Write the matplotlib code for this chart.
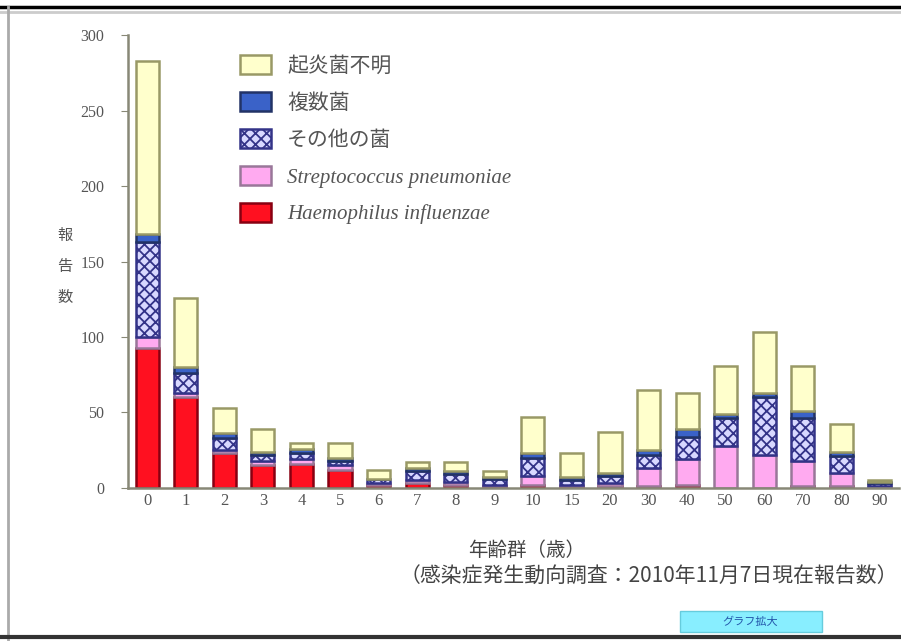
import numpy as np
import matplotlib.pyplot as plt
from matplotlib.lines import Line2D
from matplotlib.patches import Rectangle

plt.rcParams['font.family'] = ['Noto Sans CJK JP', 'DejaVu Sans']
plt.rcParams['hatch.linewidth'] = 1.3

# 年齢群
ages = ['0', '1', '2', '3', '4', '5', '6', '7', '8', '9',
        '10', '15', '20', '30', '40', '50', '60', '70', '80', '90']

# 報告数 (下から積み上げ順)
hib     = [93, 60, 23, 15, 16, 12, 2, 3, 2, 1, 2, 1, 1, 1, 2, 0, 0, 1, 1, 0]
pneumo  = [7, 3, 2, 3, 3, 3, 1, 2, 2, 1, 6, 1, 2, 12, 17, 28, 22, 17, 9, 1]
other   = [63, 13, 8, 4, 4, 3, 3, 6, 5, 4, 12, 3, 5, 9, 15, 18, 38, 28, 11, 2]
mixed   = [5, 4, 3, 2, 3, 2, 0, 2, 2, 1, 3, 2, 2, 3, 5, 3, 3, 5, 3, 1]
unknown = [115, 46, 17, 15, 4, 10, 6, 4, 6, 4, 24, 16, 27, 40, 24, 32, 40, 30, 18, 1]

fig = plt.figure(figsize=(9.01, 6.41), dpi=100)
ax = fig.add_axes([0.142, 0.239, 0.856, 0.706])

x = np.arange(len(ages))
w = 0.6
bottom = np.zeros(len(ages))

series = [
    (hib, '#ff1020', '#880011', None, 'Haemophilus influenzae'),
    (pneumo, '#ffaaf0', '#997799', None, 'Streptococcus pneumoniae'),
    (other, '#d8d8ff', '#333388', 'xxx', 'その他の菌'),
    (mixed, '#3a62c8', '#223366', None, '複数菌'),
    (unknown, '#ffffcc', '#999966', None, '起炎菌不明'),
]
handles = []
for vals, fc, ec, hatch, name in series:
    b = ax.bar(x, vals, w, bottom=bottom, color=fc, edgecolor=ec,
               hatch=hatch, linewidth=1.8, label=name)
    bottom += np.array(vals)
    handles.append(b)

ax.set_xlim(-0.5, 19.5)
ax.set_ylim(0, 300)
ax.set_yticks(np.arange(0, 301, 50))
ax.set_xticks(x)
ax.set_xticklabels(ages)
for lab in ax.get_xticklabels() + ax.get_yticklabels():
    lab.set_family(['Liberation Serif', 'DejaVu Serif'])
ax.tick_params(axis='y', labelsize=11.5, labelcolor='#555555', color='#888877',
               length=5, pad=12)
ax.tick_params(axis='x', labelsize=12, labelcolor='#555555', length=0, pad=4)
for s in ['top', 'right']:
    ax.spines[s].set_visible(False)
for s in ['left', 'bottom']:
    ax.spines[s].set_color('#888877')
    ax.spines[s].set_linewidth(1.8)

leg = ax.legend(handles[::-1], [h.get_label() for h in handles[::-1]],
                loc='upper left', bbox_to_anchor=(0.135, 0.975), frameon=False,
                fontsize=15, handlelength=1.45, handleheight=1.05,
                labelspacing=0.72, handletextpad=0.8, borderaxespad=0)
for t in leg.get_texts():
    if t.get_text()[0].isascii():
        t.set_style('italic')
        t.set_family(['Liberation Serif', 'DejaVu Serif'])
    t.set_color('#555555')

fig.text(0.072, 0.522, '報\n告\n数', fontsize=11, color='#555555',
         ha='center', va='bottom', linespacing=2.1)
fig.text(0.585, 0.132, '年齢群（歳）', fontsize=14, color='#444444', ha='center')
fig.text(0.997, 0.092, '（感染症発生動向調査：2010年11月7日現在報告数）',
         fontsize=15, color='#444444', ha='right')

# 枠線
fig.add_artist(Line2D([0, 1], [0.989, 0.989], color='black', lw=2.5))
fig.add_artist(Line2D([0, 1], [0.982, 0.982], color='#cccccc', lw=2))
fig.add_artist(Line2D([0.009, 0.009], [0.0, 0.989], color='#aaaaaa', lw=2))
fig.add_artist(Line2D([0, 1], [0.006, 0.006], color='#333333', lw=3))

# ボタン
fig.add_artist(Rectangle((0.755, 0.014), 0.157, 0.033, facecolor='#88eeff',
                         edgecolor='#66ccdd', transform=fig.transFigure))
fig.text(0.833, 0.030, 'グラフ拡大', fontsize=8, color='#2255aa',
         ha='center', va='center')

fig.savefig('out.png', dpi=100)
